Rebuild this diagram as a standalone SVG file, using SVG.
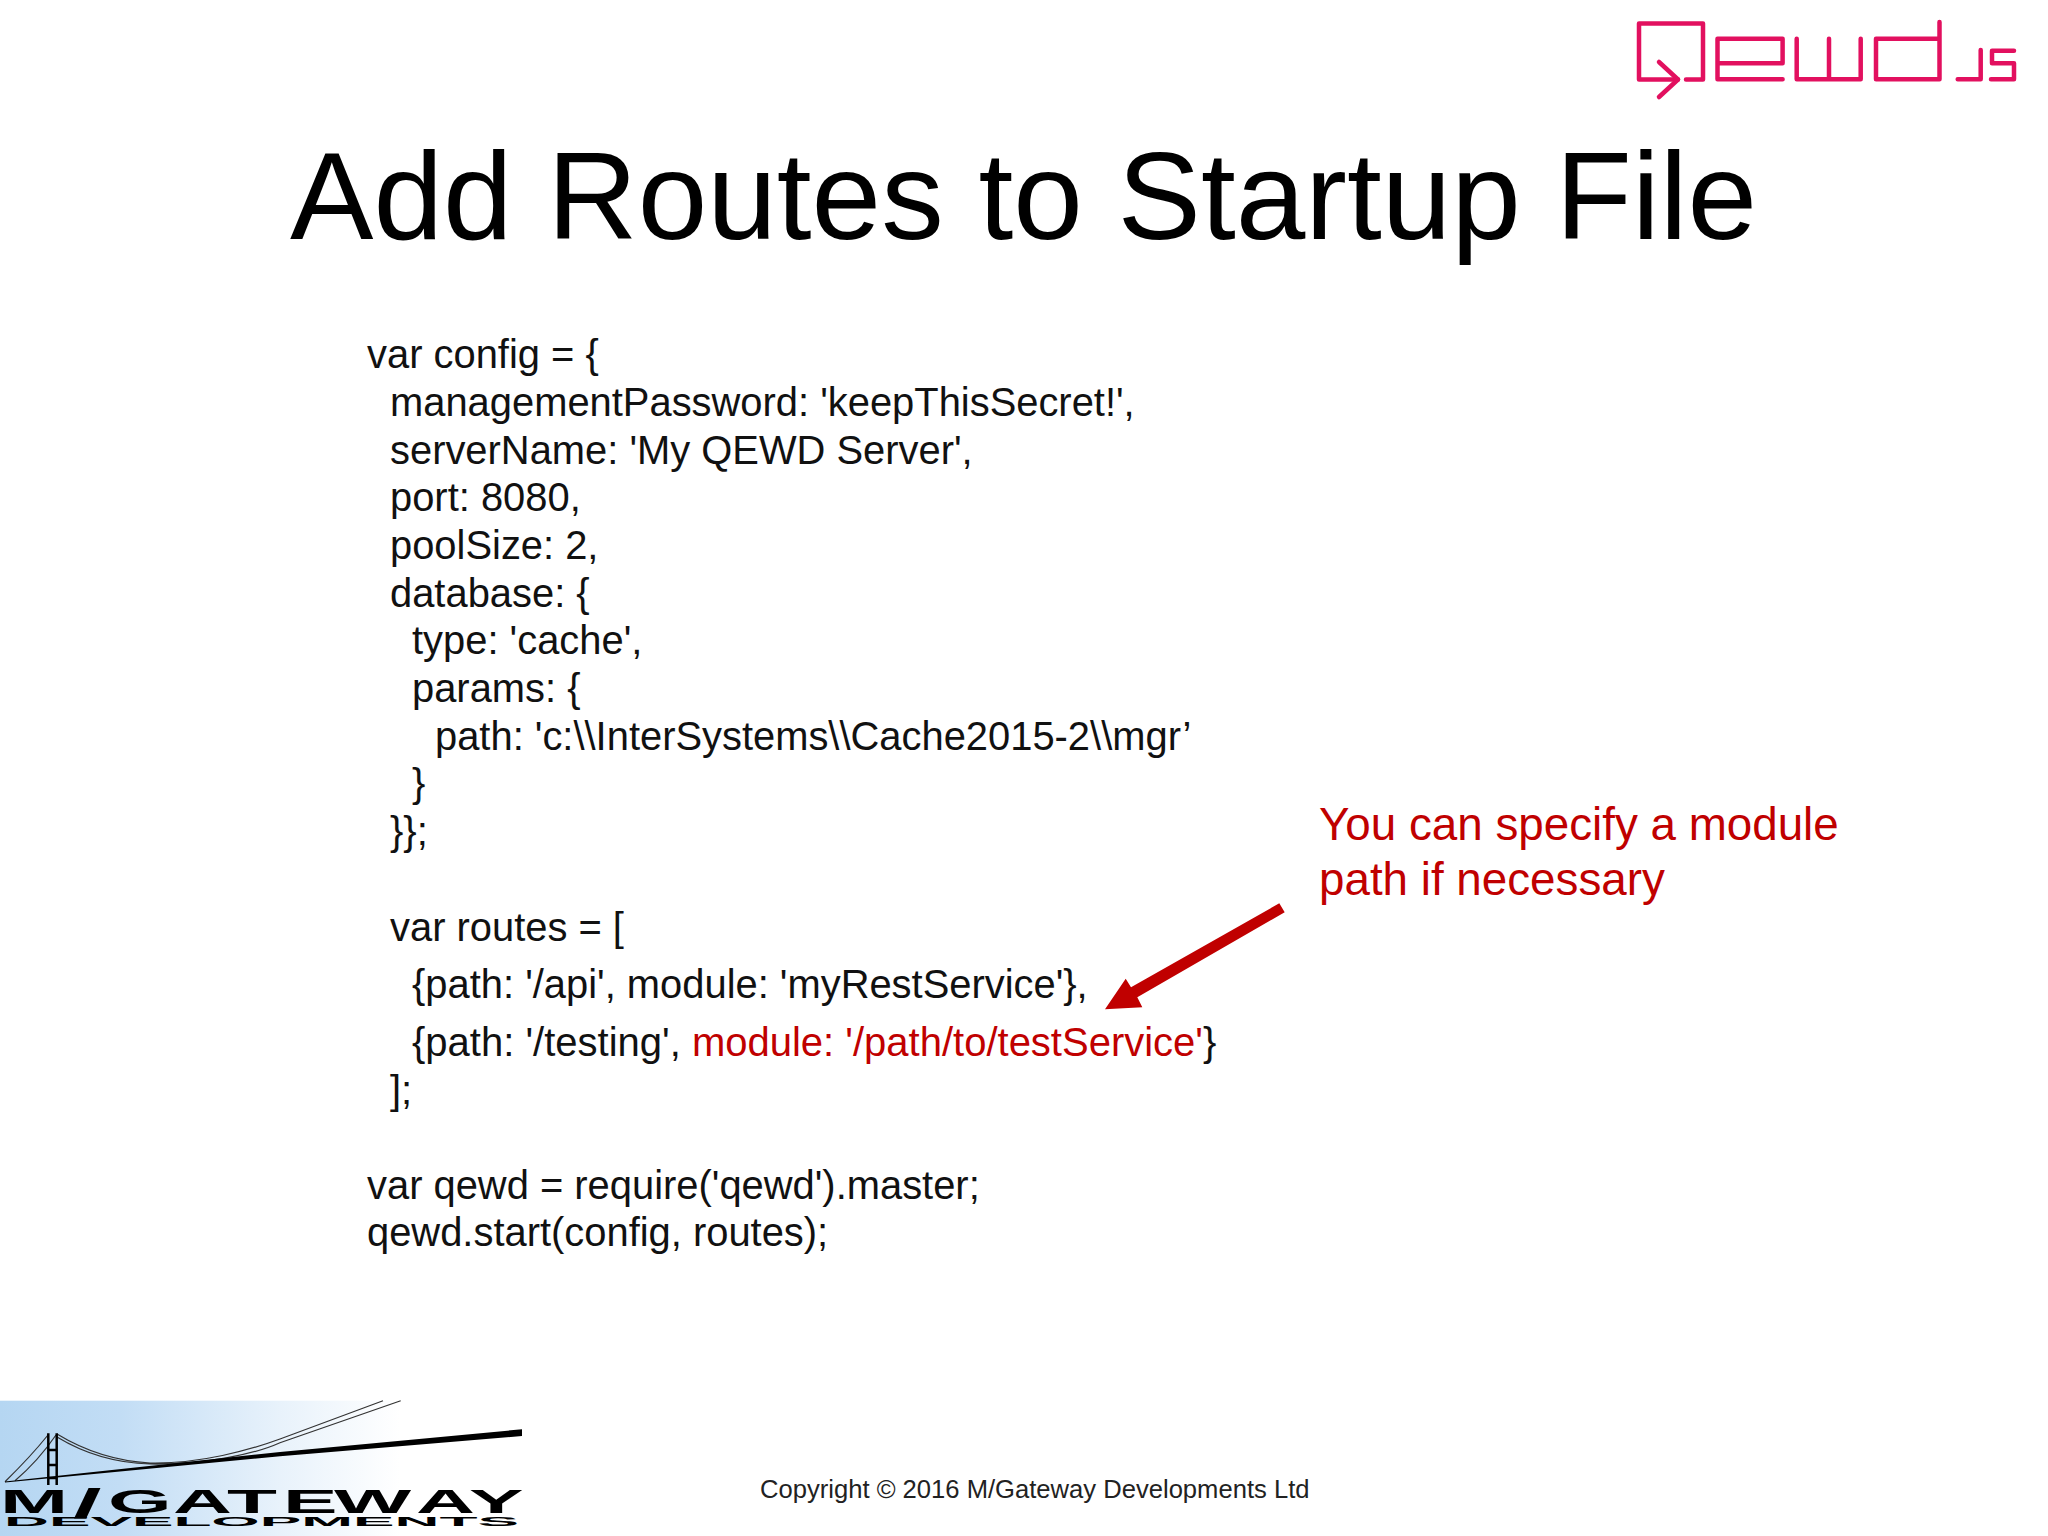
<svg xmlns="http://www.w3.org/2000/svg" width="2048" height="1536" viewBox="0 0 2048 1536">
<defs>
<linearGradient id="sky" x1="0" y1="0" x2="1" y2="0"><stop offset="0" stop-color="#b5d6f2"/><stop offset="0.3" stop-color="#c2ddf5"/><stop offset="0.7" stop-color="#e8f2fb"/><stop offset="1" stop-color="#ffffff"/></linearGradient>
</defs>
<style>
text{font-family:"Liberation Sans",Arial,sans-serif;}
.code{font-size:39.9px;fill:#111;}
.red{fill:#c00000;}
.note{font-size:45.75px;fill:#c00000;}
.q{fill:none;stroke:#e2105f;stroke-width:4.5;stroke-linecap:round;stroke-linejoin:round;}
.c{fill:none;stroke:#333;stroke-width:1.2;}
.t{fill:none;stroke:#000;stroke-width:2.5;}
</style>
<rect width="2048" height="1536" fill="#ffffff"/>
<g id="qewd-logo" class="q">
<path d="M1678 79.5H1639V23.5H1703V79.5H1686"/>
<path d="M1659 62L1678 79.5L1659 97"/>
<path d="M1782.6 79.3H1717.5V38.7H1782.6V63.3H1717.5"/>
<path d="M1796.7 38.7V79.3H1860.7V38.7M1829 38.7V79.3"/>
<path d="M1939.5 38.7H1876V79.3H1939.5M1939.5 22V79.3"/>
<path d="M1957.7 79.3H1980.7V50"/>
<path d="M2014 50.7H1992V63.3H2014V79.3H1991"/>
</g>
<text id="title" x="290" y="239" font-size="125.1" fill="#000">Add Routes to Startup File</text>
<g id="code">
<text class="code" x="367" y="368">var config = {</text>
<text class="code" x="390" y="416">managementPassword: 'keepThisSecret!',</text>
<text class="code" x="390" y="464">serverName: 'My QEWD Server',</text>
<text class="code" x="390" y="511">port: 8080,</text>
<text class="code" x="390" y="559">poolSize: 2,</text>
<text class="code" x="390" y="607">database: {</text>
<text class="code" x="412" y="654">type: 'cache',</text>
<text class="code" x="412" y="702">params: {</text>
<text class="code" x="435" y="750">path: 'c:\\InterSystems\\Cache2015-2\\mgr’</text>
<text class="code" x="412" y="797">}</text>
<text class="code" x="390" y="845">}};</text>
<text class="code" x="390" y="941">var routes = [</text>
<text class="code" x="412" y="998">{path: '/api', module: 'myRestService'},</text>
<text class="code" x="412" y="1056" style="font-size:40px">{path: '/testing', <tspan class="red">module: '/path/to/testService'</tspan>}</text>
<text class="code" x="390" y="1104">];</text>
<text class="code" x="367" y="1199">var qewd = require('qewd').master;</text>
<text class="code" x="367" y="1246">qewd.start(config, routes);</text>
</g>
<g id="note">
<text class="note" x="1319" y="840">You can specify a module</text>
<text class="note" x="1319" y="895">path if necessary</text>
</g>
<g id="connectors">
<polygon class="red" points="1279.3,903.3 1284.7,912.3 1137.3,997.3 1142.3,1007.3 1105,1009.3 1125.7,978.7 1131,987.3"/>
</g>
<text id="copyright" x="760" y="1498" font-size="25.6" fill="#222">Copyright © 2016 M/Gateway Developments Ltd</text>
<g id="mgateway-logo">
<rect x="0" y="1400.7" width="400" height="135.3" fill="url(#sky)"/>
<path class="c" d="M5 1481.7C20 1467 36 1450 48 1435M15 1480.7C30 1468 45 1451 56 1435"/>
<path class="c" d="M57 1434C85 1451 115 1461 150 1463C200 1464 250 1450 280 1439L383 1400.7M57 1437C85 1454 115 1463 150 1464C205 1465 255 1454 280 1442.7L400.7 1400.7"/>
<polygon points="5,1481.5 280,1452 522,1429.3 522,1436 280,1456.3 5,1482.5" fill="#000"/>
<path class="t" d="M48.3 1433.3V1485M56.7 1433.3V1485M48.3 1450H56.7M48.3 1465H56.7M48.3 1478H56.7"/>
<text transform="scale(2.5,1)" x="0 29.2 43.2 69.2 90.8 113.2 133.6 166.4 187.6" y="1512.7 1518 1512.7 1512.7 1512.7 1512.7 1512.7 1512.7 1512.7" font-size="32.7" font-weight="bold" fill="#000">M<tspan font-size="41">/</tspan>GATEWAY</text>
<text x="4" y="1526" font-size="12" font-weight="bold" textLength="515" lengthAdjust="spacingAndGlyphs" fill="#000">DEVELOPMENTS</text>
</g>
</svg>
